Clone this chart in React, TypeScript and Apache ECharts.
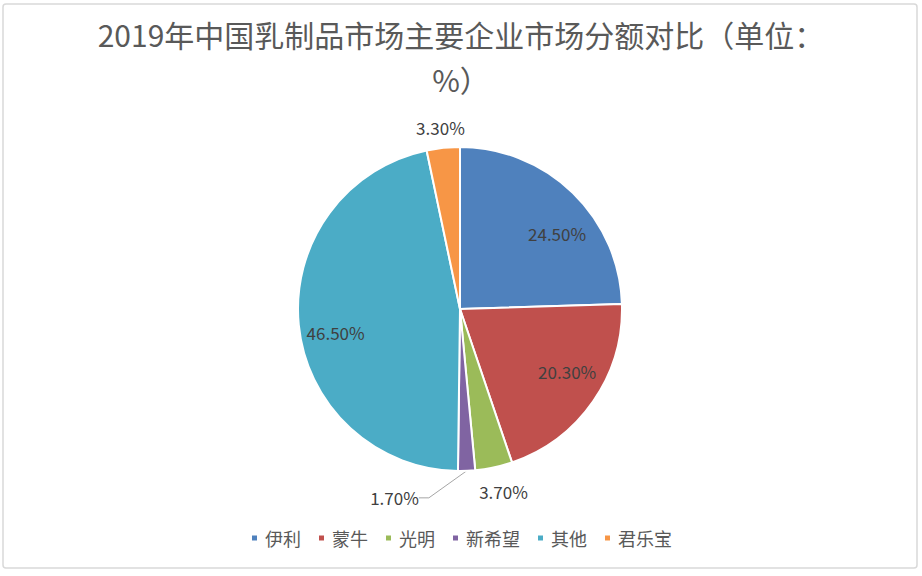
import { useEffect, useRef } from 'react'
import * as echarts from 'echarts'

// 2019 China dairy market share by company (%)
const COMPANIES = ['伊利', '蒙牛', '光明', '新希望', '其他', '君乐宝']
const SHARES = [24.5, 20.3, 3.7, 1.7, 46.5, 3.3]
// where each value label sits: inside the slice, just past the rim, or on a leader line
const LABEL_SPOT = ['inner', 'inner', 'outer', 'leader', 'inner', 'outer']
// Excel's "best fit" doesn't sit exactly on the mid-angle, nudge labels a bit (px)
const LABEL_NUDGE: [number, number][] = [[8, 16], [2, -10], [4, -2], [-112, 13], [3, 11], [0, 6]]

const COLORS = ['#4F81BD', '#C0504D', '#9BBB59', '#8064A2', '#4BACC6', '#F79646']
const TEXT = '#595959'
const LABEL_TEXT = '#404040'
const FONT = '"Noto Sans CJK SC", "Noto Sans", sans-serif'

const CENTER = [460, 309]
const R = 162

const fmt = (p: any) => `${Number(p.value).toFixed(2)}%`

// move a label relative to where echarts put it (x/y also re-routes the leader line)
const nudge = (p: any) => {
  const [dx, dy] = LABEL_NUDGE[p.dataIndex]
  const r = p.labelRect
  const leader = LABEL_SPOT[p.dataIndex] === 'leader'
  return {
    x: (leader ? r.x : r.x + r.width / 2) + dx,
    y: r.y + r.height / 2 + dy,
  }
}

function buildOption(): echarts.EChartsOption {
  const slices = COMPANIES.map((name, i) => ({ name, value: SHARES[i] }))
  // transparent copies of the pie that only carry labels at a chosen radius
  const labelRing = (radius: [number, number], spot: string) => ({
    type: 'pie' as const,
    center: CENTER,
    radius,
    startAngle: 90,
    silent: true,
    itemStyle: { color: 'transparent', borderWidth: 0 },
    labelLine: { show: false },
    labelLayout: nudge,
    data: slices.map((s, i) => ({
      ...s,
      label: {
        show: LABEL_SPOT[i] === spot,
        position: 'inside' as const,
        formatter: fmt,
        color: LABEL_TEXT,
        fontSize: 17,
        fontFamily: FONT,
      },
    })),
  })

  return {
    animation: false,
    color: COLORS,
    textStyle: { fontFamily: FONT },
    title: {
      text: '2019年中国乳制品市场主要企业市场分额对比（单位：',
      subtext: '%）',
      left: 'center',
      top: 14,
      itemGap: 15,
      textStyle: { color: TEXT, fontSize: 30, fontWeight: 'normal', fontFamily: FONT },
      subtextStyle: { color: TEXT, fontSize: 30, fontFamily: FONT },
    },
    legend: {
      data: COMPANIES,
      left: 'center',
      top: 524,
      icon: 'rect',
      itemWidth: 7,
      itemHeight: 7,
      itemGap: 16,
      textStyle: { color: TEXT, fontSize: 18, fontFamily: FONT, padding: [0, 0, 0, 2] },
    },
    graphic: [
      {
        type: 'rect',
        shape: { x: 3, y: 4, width: 914, height: 564, r: 3 },
        style: { fill: 'none', stroke: '#d9d9d9', lineWidth: 1.5 },
        silent: true,
      },
    ],
    series: [
      {
        type: 'pie',
        center: CENTER,
        radius: R,
        startAngle: 90,
        itemStyle: { borderColor: '#ffffff', borderWidth: 2 },
        labelLayout: (p: any) => (LABEL_SPOT[p.dataIndex] === 'leader' ? nudge(p) : {}),
        data: slices.map((s, i) => ({
          ...s,
          label: {
            show: LABEL_SPOT[i] === 'leader',
            position: 'outside' as const,
            formatter: fmt,
            color: LABEL_TEXT,
            fontSize: 17,
            fontFamily: FONT,
          },
          labelLine: {
            show: LABEL_SPOT[i] === 'leader',
            length: 14,
            length2: 10,
            lineStyle: { color: '#a6a6a6', width: 1 },
          },
        })),
      },
      labelRing([88, R], 'inner'),
      labelRing([174, 198], 'outer'),
    ],
  }
}

export default function App() {
  const ref = useRef<HTMLDivElement>(null)

  useEffect(() => {
    const el = ref.current
    if (!el) return
    const chart = echarts.init(el, undefined, { renderer: 'svg' })
    chart.setOption(buildOption())
    return () => chart.dispose()
  }, [])

  return (
    <div
      ref={ref}
      style={{ position: 'absolute', left: 0, top: 0, width: 922, height: 576, background: '#fff' }}
    />
  )
}
